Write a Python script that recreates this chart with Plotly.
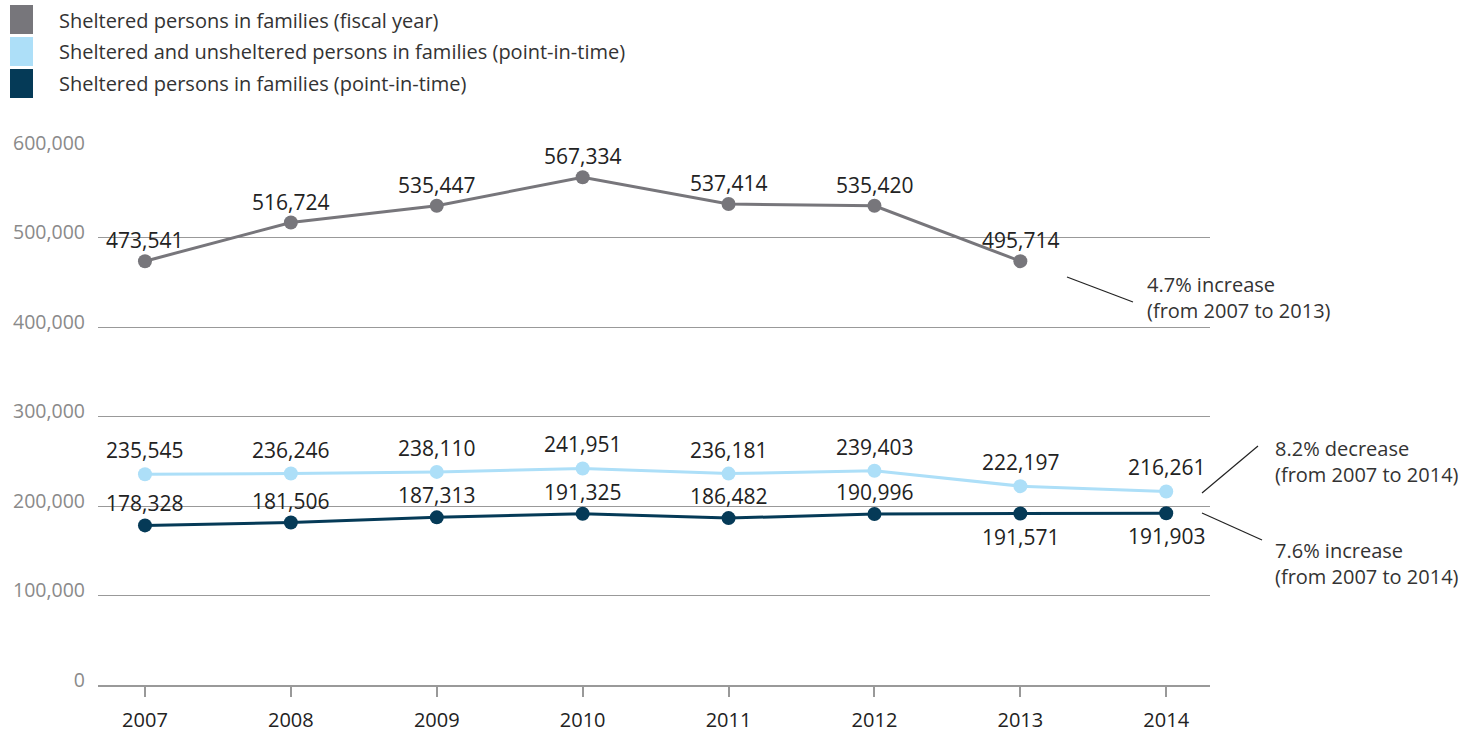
import plotly.graph_objects as go

years = [2007, 2008, 2009, 2010, 2011, 2012, 2013, 2014]

# Sheltered persons in families (fiscal year) - as drawn (2013 point drawn near 473.6k)
fiscal_years = [2007, 2008, 2009, 2010, 2011, 2012, 2013]
fiscal_values = [473541, 516724, 535447, 567334, 537414, 535420, 473600]
fiscal_labels = ["473,541", "516,724", "535,447", "567,334", "537,414", "535,420", "495,714"]

pit_all_values = [235545, 236246, 238110, 241951, 236181, 239403, 222197, 216261]
pit_all_labels = ["235,545", "236,246", "238,110", "241,951", "236,181", "239,403", "222,197", "216,261"]

pit_shel_values = [178328, 181506, 187313, 191325, 186482, 190996, 191571, 191903]
pit_shel_labels = ["178,328", "181,506", "187,313", "191,325", "186,482", "190,996", "191,571", "191,903"]
pit_shel_label_pos = ["above"] * 6 + ["below"] * 2

series_names = [
    "Sheltered persons in families (fiscal year)",
    "Sheltered and unsheltered persons in families (point-in-time)",
    "Sheltered persons in families (point-in-time)",
]
colors = ["#77767b", "#addff8", "#053a57"]

y_ticks = [0, 100000, 200000, 300000, 400000, 500000, 600000]
y_tick_text = ["0", "100,000", "200,000", "300,000", "400,000", "500,000", "600,000"]

FONT = "'Open Sans', sans-serif"

# plot area in pixels
L, R, T, B = 98, 1210, 148, 685
W, H = R - L, B - T
def px(x):
    return (x - L) / W
def py(y):
    return (B - y) / H

fig = go.Figure()
for xs, ys, c, n in [(fiscal_years, fiscal_values, colors[0], series_names[0]),
                     (years, pit_all_values, colors[1], series_names[1]),
                     (years, pit_shel_values, colors[2], series_names[2])]:
    fig.add_trace(go.Scatter(x=xs, y=ys, mode="lines+markers", name=n,
                             line=dict(color=c, width=3),
                             marker=dict(color=c, size=14),
                             cliponaxis=False, showlegend=False))

LBL = dict(size=21, color="#222", family=FONT)
ann = []
for x, y, t in zip(fiscal_years, fiscal_values, fiscal_labels):
    ann.append(dict(x=x, y=y, text=t, showarrow=False, yshift=21, font=LBL))
for x, y, t in zip(years, pit_all_values, pit_all_labels):
    ann.append(dict(x=x, y=y, text=t, showarrow=False, yshift=24, font=LBL))
for x, y, t, p in zip(years, pit_shel_values, pit_shel_labels, pit_shel_label_pos):
    ann.append(dict(x=x, y=y, text=t, showarrow=False, yshift=22 if p == "above" else -23, font=LBL))

# callout texts
callouts = [
    (1145, 297, "4.7% increase<br>(from 2007 to 2013)"),
    (1273, 461, "8.2% decrease<br>(from 2007 to 2014)"),
    (1273, 563, "7.6% increase<br>(from 2007 to 2014)"),
]
for x, y, t in callouts:
    ann.append(dict(xref="paper", yref="paper", x=px(x), y=py(y), text=t,
                    showarrow=False, xanchor="left", yanchor="middle", align="left",
                    font=dict(size=20, color="#333", family=FONT)))

shapes = []
for x0, y0, x1, y1 in [(1067, 277, 1133, 302), (1202, 493, 1258, 446), (1202, 513, 1262, 540)]:
    shapes.append(dict(type="line", xref="paper", yref="paper",
                       x0=px(x0), y0=py(y0), x1=px(x1), y1=py(y1),
                       line=dict(color="#222", width=1.2)))

# legend
for i, (n, c) in enumerate(zip(series_names, colors)):
    top = 5 + i * 32
    shapes.append(dict(type="rect", xref="paper", yref="paper",
                       x0=px(10), x1=px(33), y0=py(top), y1=py(top + 29),
                       fillcolor=c, line=dict(width=0)))
    ann.append(dict(xref="paper", yref="paper", x=px(57), y=py(top + 15), text=n,
                    showarrow=False, xanchor="left", yanchor="middle",
                    font=dict(size=20, color="#333", family=FONT)))

fig.update_layout(
    width=1467, height=733,
    margin=dict(l=L, r=1467 - R, t=T, b=733 - B),
    plot_bgcolor="white", paper_bgcolor="white",
    annotations=ann, shapes=shapes,
    showlegend=False,
    xaxis=dict(range=[2006.678, 2014.30], tickmode="array", tickvals=years,
               ticktext=[str(y) for y in years], showgrid=False, zeroline=False,
               showline=True, linecolor="#999", linewidth=1.5,
               ticks="outside", ticklen=10, tickcolor="#999", tickwidth=1.5,
               ticklabelstandoff=6, automargin=False,
               tickfont=dict(size=20, color="#222", family=FONT)),
    yaxis=dict(range=[0, 600000], tickmode="array", tickvals=y_ticks, ticktext=y_tick_text,
               showgrid=True, gridcolor="#999", gridwidth=1, zeroline=False,
               showline=False, ticks="", ticklabelstandoff=12, ticklabelshift=-5,
               automargin=False,
               tickfont=dict(size=19.5, color="#8a8a8a", family=FONT)),
)

fig.write_html("out.html")
